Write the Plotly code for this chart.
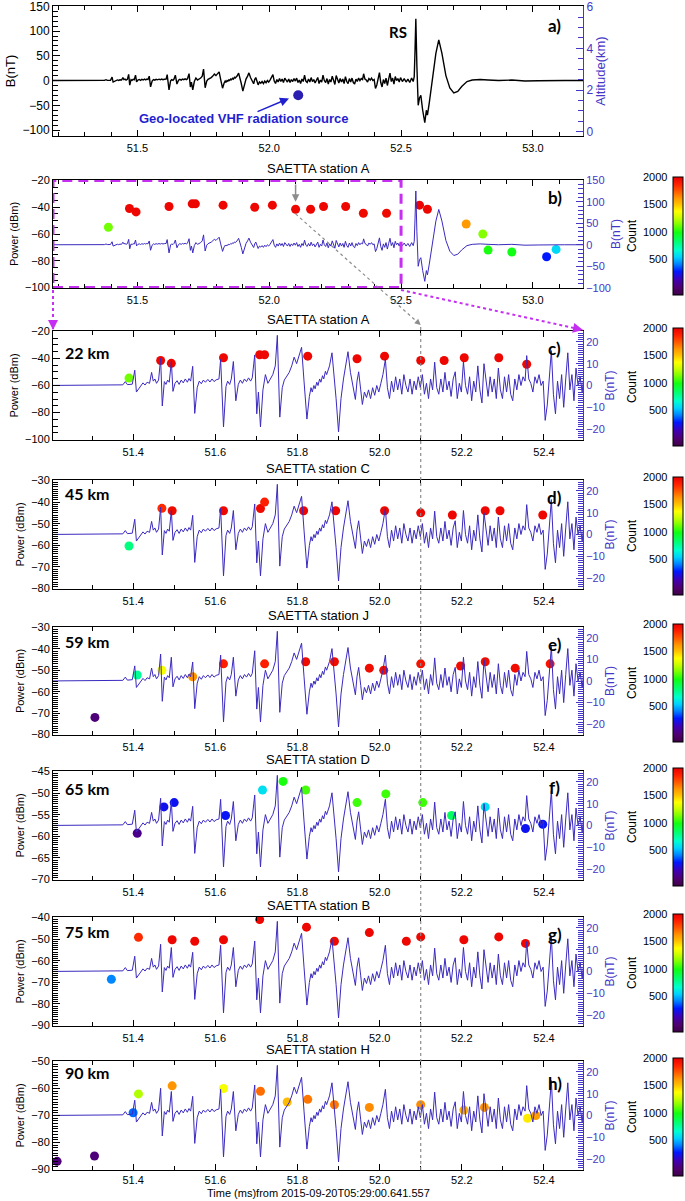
import plotly.graph_objects as go

# ---------------- data ----------------
# magnetic field waveform B(nT) vs time (ms), read from panels a / c
wave_t = [51.18, 51.30, 51.375, 51.381, 51.386, 51.398,
          51.404, 51.408, 51.413, 51.418, 51.424, 51.429, 51.434, 51.440, 51.445, 51.449,
          51.453, 51.457, 51.462, 51.467, 51.471, 51.476, 51.480, 51.484, 51.488, 51.493,
          51.497, 51.502, 51.507, 51.512, 51.517, 51.522, 51.527, 51.532, 51.536, 51.540,
          51.545, 51.550, 51.556, 51.561, 51.566, 51.571, 51.576, 51.582, 51.587, 51.592,
          51.597,
          51.602, 51.609, 51.613, 51.620, 51.626, 51.630, 51.635, 51.639, 51.644, 51.650,
          51.656, 51.661, 51.666, 51.671, 51.676, 51.681, 51.686, 51.690, 51.696, 51.701,
          51.705, 51.710, 51.716, 51.722, 51.728, 51.734, 51.740, 51.746, 51.751, 51.757,
          51.763, 51.768, 51.774, 51.780, 51.786, 51.792, 51.798,
          51.804, 51.810, 51.816, 51.823, 51.829, 51.833, 51.836, 51.840, 51.843, 51.847,
          51.850, 51.854, 51.857, 51.861, 51.864, 51.868, 51.871, 51.878, 51.884, 51.889,
          51.894, 51.900, 51.906, 51.912, 51.918, 51.923, 51.929, 51.935, 51.941, 51.945,
          51.949, 51.954, 51.958, 51.963, 51.968, 51.973, 51.978, 51.983, 51.988, 51.993,
          51.998,
          52.003, 52.008, 52.014, 52.019, 52.024, 52.029, 52.034, 52.039, 52.044, 52.049,
          52.054, 52.059, 52.064, 52.069, 52.074, 52.079, 52.084, 52.089, 52.094, 52.099,
          52.104, 52.109, 52.114, 52.119, 52.124, 52.129, 52.134, 52.139, 52.144, 52.149,
          52.154, 52.159, 52.164, 52.169, 52.174, 52.179, 52.184, 52.189, 52.194, 52.199,
          52.204, 52.209, 52.214, 52.219, 52.224, 52.229, 52.234, 52.239, 52.244, 52.249,
          52.254, 52.259, 52.264, 52.269, 52.274, 52.279, 52.284, 52.289, 52.294, 52.299,
          52.304, 52.309, 52.314, 52.319, 52.324, 52.329, 52.334, 52.339, 52.344, 52.349,
          52.354, 52.358, 52.363, 52.368, 52.373, 52.378, 52.383, 52.388, 52.393, 52.398,
          52.403, 52.408, 52.413, 52.418, 52.423, 52.428, 52.433, 52.438, 52.443, 52.448,
          52.453, 52.458, 52.463, 52.468, 52.473, 52.478, 52.483, 52.488, 52.493, 52.498,
          52.505, 52.512, 52.519, 52.526, 52.533, 52.540, 52.546, 52.550, 52.553, 52.556,
          52.560, 52.565, 52.570, 52.575, 52.582, 52.590, 52.596, 52.600, 52.607, 52.620,
          52.632, 52.643, 52.655, 52.670, 52.685, 52.700, 52.715, 52.730, 52.750, 52.770,
          52.800, 52.830, 52.870, 52.920, 52.970, 53.020, 53.070, 53.120, 53.190]
wave_b = [0.0, 0.0, 0.3, 1.8, 0.4, 0.6,
          7.0, -3.0, -1.5, 0.0, 1.2, 0.2, 1.5, 1.0, 6.0, 2.0,
          3.0, 1.0, 2.5, 12.5, -9.4, 1.8, 0.5, 2.5, 1.5, 11.0,
          -2.7, 1.0, 2.2, 0.5, 2.5, 1.2, 3.0, 1.5, 3.2, 2.0,
          8.8, -12.8, -1.0, 2.0, 0.8, 2.5, 1.5, 2.8, 1.6, 3.0,
          1.8,
          2.6, 3.0, 12.0, -19.0, -0.5, 2.0, 0.5, 3.0, 11.0, -7.0,
          0.5, 2.5, 1.0, 3.0, 1.8, 3.5, 2.0, 3.5, 14.0, -13.0,
          -3.0, -19.0, -2.0, 5.0, 1.0, 3.0, 5.0, 9.0, 23.0, -14.5,
          -1.0, 2.5, 4.0, 6.0, 9.0, 13.0, 10.0,
          14.0, 17.5, 2.0, -15.4, -5.0, -1.0, -3.0, 0.0, -1.5, 1.5,
          0.0, 3.0, 1.5, 4.5, 3.0, 6.5, 5.0, 9.0, 15.0, 6.0,
          -6.0, -21.3, -6.0, 3.0, 9.0, 15.5, 6.0, 0.5, -6.4, 2.0,
          6.3, -2.0, -8.7, -3.0, -5.5, -2.0, -6.0, -1.0, -4.5, 0.0,
          -3.0,
          1.0, 5.0, 12.0, -1.0, -6.0, 2.0, -3.0, 4.0, -2.0, 3.0,
          -4.0, 5.0, 0.0, -3.0, 3.0, -4.0, 2.0, -2.0, 4.0, -1.0,
          5.0, -4.0, 1.0, -6.0, 3.0, -2.0, 10.7, -1.0, -4.0, 3.0,
          -3.0, 6.0, -2.0, 2.0, -5.0, 3.0, 6.3, -6.0, 1.0, -3.0,
          11.0, 0.0, -4.0, 4.0, -7.0, 2.0, -3.0, 9.0, -2.0, -8.0,
          10.0, 1.0, -5.0, 4.0, -3.0, 3.0, -6.0, 8.0, -2.0, -6.0,
          4.0, -3.0, 5.0, -4.0, -7.0, 3.0, -2.0, 5.0, 0.0, 4.0,
          2.0, 13.7, 3.0, 1.0, -3.0, 4.0, 1.0, 5.0, 0.0, 2.0,
          -16.0, -9.0, 4.0, 16.0, -4.0, -13.0, 2.0, -6.0, 5.0, -10.0,
          3.0, 15.0, -2.0, 5.0, -7.0, 8.0, 0.0, 4.0, -3.0, 6.0,
          -2.0, 4.0, -3.0, 3.0, -4.0, 5.0, -2.0, 8.0, 60.0, 125.0,
          30.0, -50.0, -35.0, -30.0, -60.0, -85.0, -60.0, -70.0, -45.0, 10.0,
          55.0, 82.0, 55.0, 10.0, -15.0, -25.0, -22.0, -12.0, -2.0, 1.0,
          2.0, 1.0, 0.0, 1.0, -1.0, -0.5, -1.0, 0.0, 0.0]

# geo-located VHF source (panel a)
vhf_time = [52.11]
vhf_alt = [1.75]

# VHF power (dBm) and count per station
b_time = [51.39, 51.47, 51.495, 51.62, 51.708, 51.72, 51.825, 51.945, 52.012, 52.10, 52.157, 52.206,
          52.29, 52.357, 52.445, 52.57, 52.60, 52.747, 52.81, 52.83, 52.92, 53.052, 53.088]
b_power = [-55, -41, -43.5, -39.5, -37.5, -37.5, -38.5, -40, -38.5, -41.5, -41.5, -39.5,
           -39.5, -44.5, -44.5, -38.5, -41.5, -52.5, -60, -72, -73.4, -77, -71.5]
b_count = [1120, 1970, 1970, 1970, 1980, 1980, 1970, 1970, 1970, 1970, 1970, 1970,
           1970, 1960, 1960, 1980, 1970, 1610, 1150, 1000, 980, 280, 560]

c_time = [51.39, 51.467, 51.493, 51.62, 51.708, 51.72, 51.825, 51.945, 52.012, 52.10, 52.157, 52.206, 52.29, 52.358]
c_power = [-54.5, -41.5, -43.6, -39.5, -37.3, -37.3, -38.3, -40.2, -38.3, -41.5, -41.5, -39.5, -39.5, -44.3]
c_count = [1120, 1970, 1970, 1970, 1970, 1970, 1970, 1970, 1970, 1970, 1970, 1970, 1970, 1960]

d_time = [51.39, 51.47, 51.495, 51.62, 51.71, 51.72, 51.815, 51.893, 52.012, 52.10, 52.177, 52.257, 52.293, 52.397]
d_power = [-60.3, -42.9, -44, -44, -43, -40, -44, -44, -44, -45, -46, -44, -44, -46]
d_count = [800, 1850, 1960, 1970, 1960, 1880, 1970, 1970, 1970, 1970, 1970, 1970, 1970, 1970]

e_time = [51.307, 51.41, 51.47, 51.545, 51.62, 51.72, 51.82, 51.89, 51.975, 52.01, 52.10, 52.197, 52.257, 52.33, 52.415]
e_power = [-72, -52.2, -50, -53, -47, -47, -46, -46, -49, -50, -47, -48, -46, -49, -47]
e_count = [0, 760, 1360, 1620, 1880, 1880, 1950, 1950, 1950, 1950, 1930, 1950, 1950, 1950, 1920]

f_time = [51.41, 51.475, 51.5, 51.625, 51.715, 51.765, 51.82, 51.945, 52.015, 52.105, 52.175, 52.257, 52.355, 52.397]
f_power = [-59.3, -53.2, -52.2, -55.2, -49.3, -47.3, -49.3, -52.2, -50.2, -52.2, -55.2, -53.2, -58.2, -57.2]
f_count = [40, 240, 250, 260, 580, 1000, 1060, 1050, 1050, 1050, 850, 580, 250, 260]

g_time = [51.347, 51.413, 51.495, 51.55, 51.62, 51.708, 51.822, 51.89, 51.975, 52.065, 52.10, 52.205, 52.29, 52.355]
g_power = [-68.6, -49.2, -50.3, -51, -50.3, -41, -44.5, -51, -47, -51, -49, -50.3, -49, -52]
g_count = [420, 1850, 1970, 1970, 1970, 1970, 1970, 1960, 1970, 1970, 1970, 1970, 1970, 1970]

h_time = [51.215, 51.306, 51.40, 51.413, 51.495, 51.62, 51.71, 51.775, 51.825, 51.89, 51.975, 52.10, 52.205, 52.255, 52.36, 52.38]
h_power = [-87, -85, -69, -62, -59, -60, -61, -65, -64, -66, -67, -66, -68, -67, -71, -70]
h_count = [0, 0, 380, 1220, 1620, 1360, 1700, 1520, 1680, 1680, 1640, 1640, 1560, 1620, 1420, 1600]

stations = ["A", "A", "C", "J", "D", "B", "H"]
distances = ["22 km", "45 km", "59 km", "65 km", "75 km", "90 km"]
letters = ["a)", "b)", "c)", "d)", "e)", "f)", "g)", "h)"]
count_ticks = [500, 1000, 1500, 2000]
time_title = "Time (ms)from 2015-09-20T05:29:00.641.557"

# ---------------- style / layout ----------------
W, H = 685, 1201
X0, X1 = 53, 583
PANELS = [(6, 136), (180, 288), (331, 440), (480, 589), (627, 735), (771, 880), (917, 1026), (1061, 1170)]
FONT = "Liberation Sans, Arial, sans-serif"
BOLD = "Lato, Open Sans, sans-serif"
LINEB = "#3a2abf"
AXB = "#4636c8"
MAG = "#c62ff2"
GRAY = "#8c8c8c"
CMIN, CMAX = -150, 2000
CS = [[0.0, '#3c0046'], [0.06, '#50006e'], [0.13, '#4000b4'], [0.2, '#0018ff'], [0.26, '#0080ff'],
      [0.32, '#00d0ff'], [0.38, '#00ffd0'], [0.44, '#00ff80'], [0.53, '#10ff10'], [0.6, '#80ff00'],
      [0.66, '#d0ff00'], [0.71, '#ffff00'], [0.77, '#ffc000'], [0.82, '#ff9800'], [0.88, '#ff5800'],
      [0.94, '#ff2000'], [1.0, '#e80000']]

XR_FULL = [51.18, 53.19]
XR_ZOOM = [51.205, 52.495]

left_ranges = [[-112, 150.6], [-100.3, -19.7], [-100.3, -19.7], [-80.2, -29.8], [-80.2, -29.8],
               [-70.1, -44.9], [-90.2, -39.8], [-90.2, -49.8]]
left_dtick = [50, 20, 20, 10, 10, 5, 10, 10]
left_minor = [10, 5, 5, 1, 1, 0.5, 1, 1]
right_ranges = [[-0.2, 6.03], [-100.5, 150.5]] + [[-25, 25]] * 6
right_dtick = [2, 50] + [10] * 6
right_minor = [0.5, 10] + [1] * 6

point_sets = [(b_time, b_power, b_count), (c_time, c_power, c_count), (d_time, d_power, d_count),
              (e_time, e_power, e_count), (f_time, f_power, f_count), (g_time, g_power, g_count),
              (h_time, h_power, h_count)]


def xid(i):
    return 'x' if i == 0 else f'x{i + 1}'


def xkey(i):
    return 'xaxis' if i == 0 else f'xaxis{i + 1}'


def yid(n):
    return 'y' if n == 1 else f'y{n}'


def ykey(n):
    return 'yaxis' if n == 1 else f'yaxis{n}'


def py(px):
    return 1 - px / H


def px_x(t, rng):
    return X0 + (t - rng[0]) / (rng[1] - rng[0]) * (X1 - X0)


def px_y(v, rng, panel):
    top, bot = panel
    return bot - (v - rng[0]) / (rng[1] - rng[0]) * (bot - top)


fig = go.Figure()
layout = dict(width=W, height=H, margin=dict(l=0, r=0, t=0, b=0, autoexpand=False),
              paper_bgcolor='white', plot_bgcolor='white', showlegend=False,
              font=dict(family=FONT, size=11, color='black'))
annotations = []
shapes = []

for i, (top, bot) in enumerate(PANELS):
    xr = XR_FULL if i < 2 else XR_ZOOM
    nl, nr = 2 * i + 1, 2 * i + 2
    xa = dict(domain=[X0 / W, X1 / W], range=xr, anchor=yid(nl), showline=True, linecolor='black',
              linewidth=1, mirror='ticks', ticks='inside', ticklen=6, tickcolor='black', showgrid=False,
              zeroline=False, tickformat='.1f', tickfont=dict(family=FONT, size=11, color='black'),
              ticklabelstandoff=0 if i == 7 else 2, ticklabeloverflow='allow',
              minor=dict(ticks='inside', ticklen=4, tickwidth=1, tickcolor='black', dtick=0.1, showgrid=False))
    if i < 2:
        xa.update(tick0=51.5, dtick=0.5)
    else:
        xa.update(tick0=51.4, dtick=0.2)
    layout[xkey(i)] = xa
    ya = dict(domain=[py(bot), py(top)], range=left_ranges[i], anchor=xid(i), showline=True,
              linecolor='black', linewidth=1, ticks='inside', ticklen=7, tickcolor='black',
              showgrid=False, zeroline=False, dtick=left_dtick[i], tick0=0, ticklabeloverflow='allow',
              tickfont=dict(family=FONT, size=12 if i == 0 else 11, color='black'),
              minor=dict(ticks='inside', ticklen=5, tickwidth=1, tickcolor='black', dtick=left_minor[i],
                         showgrid=False),
              title=dict(text='B(nT)' if i == 0 else 'Power (dBm)',
                         font=dict(family=FONT, size=13 if i == 0 else 11, color='black'), standoff=4))
    layout[ykey(nl)] = ya
    yr = dict(range=right_ranges[i], overlaying=yid(nl), anchor=xid(i), side='right', showline=True,
              linecolor=AXB, linewidth=1, ticks='inside', ticklen=7, tickcolor=AXB, showgrid=False,
              zeroline=False, dtick=right_dtick[i], tick0=0, ticklabeloverflow='allow',
              tickfont=dict(family=FONT, size=12 if i == 0 else 11, color=AXB),
              minor=dict(ticks='inside', ticklen=5, tickwidth=1, tickcolor=AXB, dtick=right_minor[i],
                         showgrid=False),
              title=dict(text='Altitude(km)' if i == 0 else 'B(nT)',
                         font=dict(family=FONT, size=13 if i == 0 else 12, color=AXB), standoff=1))
    layout[ykey(nr)] = yr

    if i == 0:
        fig.add_trace(go.Scatter(x=wave_t, y=wave_b, mode='lines', line=dict(color='black', width=1.4),
                                 xaxis=xid(i), yaxis=yid(nl), hoverinfo='skip'))
        fig.add_trace(go.Scatter(x=vhf_time, y=vhf_alt, mode='markers',
                                 marker=dict(color='#2a1fb0', size=10), xaxis=xid(i), yaxis=yid(nr)))
    else:
        pt, pp, pc = point_sets[i - 1]
        cb_top = top - 3
        fig.add_trace(go.Scatter(
            x=pt, y=pp, mode='markers', xaxis=xid(i), yaxis=yid(nl),
            marker=dict(color=pc, colorscale=CS, cmin=CMIN, cmax=CMAX, size=9, showscale=True,
                        colorbar=dict(x=673 / W, xanchor='left', xpad=0, ypad=0, thickness=10,
                                      thicknessmode='pixels', len=118, lenmode='pixels',
                                      y=py(cb_top), yanchor='top', outlinewidth=1, outlinecolor='black',
                                      showticklabels=False, ticks=''))))
        fig.add_trace(go.Scatter(x=wave_t, y=wave_b, mode='lines', line=dict(color=LINEB, width=1),
                                 xaxis=xid(i), yaxis=yid(nr), hoverinfo='skip'))
        # colorbar labels
        for v in count_ticks:
            ypx = cb_top + (CMAX - v) / (CMAX - CMIN) * 118
            annotations.append(dict(x=669 / W, y=py(ypx), xref='paper', yref='paper', text=str(v),
                                    showarrow=False, xanchor='right', yanchor='middle',
                                    font=dict(family=FONT, size=11, color='black')))
        annotations.append(dict(x=632 / W, y=py(cb_top + 59), xref='paper', yref='paper', text='Count',
                                showarrow=False, textangle=-90, xanchor='center', yanchor='middle',
                                font=dict(family=FONT, size=12, color='black')))
        # station title
        annotations.append(dict(x=318 / W, y=py(top - 12), xref='paper', yref='paper',
                                text=f'SAETTA station {stations[i - 1]}', showarrow=False,
                                xanchor='center', yanchor='middle',
                                font=dict(family=FONT, size=13, color='black')))
    # panel letter
    hgt = bot - top
    ly = {0: 19, 7: 22}.get(i, 17)
    annotations.append(dict(x=0.947, y=1 - ly / hgt, xref=f'{xid(i)} domain', yref=f'{yid(nl)} domain',
                            text=f'<b>{letters[i]}</b>', showarrow=False, xanchor='center', yanchor='middle',
                            font=dict(family=BOLD, size=17, color='black')))

# bottom time-axis title
annotations.append(dict(x=318 / W, y=py(1193), xref='paper', yref='paper', text=time_title,
                        showarrow=False, xanchor='center', yanchor='middle',
                        font=dict(family=FONT, size=11, color='black')))

# distance labels
dist_off = [21, 13, 14, 18, 14, 11]
for k, lab in enumerate(distances):
    i = k + 2
    top, bot = PANELS[i]
    annotations.append(dict(x=0.018, y=1 - dist_off[k] / (bot - top), xref=f'{xid(i)} domain',
                            yref=f'{yid(2 * i + 1)} domain', text=f'<b>{lab}</b>', showarrow=False,
                            xanchor='left', yanchor='middle', font=dict(family=BOLD, size=16, color='black')))

# panel a annotations
annotations.append(dict(x=52.489, y=0.80, xref='x', yref='y domain', text='<b>RS</b>', showarrow=False,
                        xanchor='center', yanchor='middle', font=dict(family=BOLD, size=15, color='black')))
annotations.append(dict(x=51.5, y=-76, xref='x', yref='y', text='<b>Geo-located VHF radiation source</b>',
                        showarrow=False, xanchor='left', yanchor='middle',
                        font=dict(family=FONT, size=13, color='#1f1fd0')))
annotations.append(dict(x=52.075, y=-36, xref='x', yref='y', ax=51.95, ay=-64, axref='x', ayref='y',
                        text='', showarrow=True, arrowhead=2, arrowsize=1.2, arrowwidth=1.5,
                        arrowcolor='#1f1fd0'))

# panel b: dashed zoom rectangle and gray arrow
shapes.append(dict(type='rect', xref='x2', yref='y3', x0=XR_FULL[0], x1=52.5, y0=-100, y1=-20,
                   line=dict(color=MAG, width=3, dash='10px,6px')))
annotations.append(dict(x=52.1, y=-36, xref='x2', yref='y3', ax=52.1, ay=-22, axref='x2', ayref='y3',
                        text='', showarrow=True, arrowhead=2, arrowsize=1, arrowwidth=1.5, arrowcolor=GRAY))


def dotted_arrow(p0, p1, color, width, dash='dot'):
    (xa0, ya0), (xa1, ya1) = p0, p1
    shapes.append(dict(type='line', xref='paper', yref='paper', x0=xa0 / W, y0=py(ya0), x1=xa1 / W,
                       y1=py(ya1), line=dict(color=color, width=width, dash=dash)))
    dx, dy = xa1 - xa0, ya1 - ya0
    n = (dx * dx + dy * dy) ** 0.5
    annotations.append(dict(x=xa1 / W, y=py(ya1), xref='paper', yref='paper', ax=-dx / n * 7, ay=-dy / n * 7,
                            text='', showarrow=True, arrowhead=2, arrowsize=1, arrowwidth=width,
                            arrowcolor=color))


pb, pc_ = PANELS[1], PANELS[2]
# magenta zoom arrows b -> c
dotted_arrow((X0, pb[1] + 2), (X0, pc_[0] - 1), MAG, 2)
dotted_arrow((px_x(52.5, XR_FULL), pb[1] + 2), (X1, pc_[0] - 1), MAG, 2)
# gray link from the b source at 52.1 ms to the c panel
x_src_b = px_x(52.1, XR_FULL)
y_src_b = px_y(-45, left_ranges[1], pb)
x_src_c = px_x(52.1, XR_ZOOM)
dotted_arrow((x_src_b, y_src_b), (x_src_c, pc_[0] - 6), GRAY, 1.2)
# vertical dotted line through panels c-h
shapes.append(dict(type='line', xref='x3', yref='paper', x0=52.1, x1=52.1, y0=py(PANELS[7][1]),
                   y1=py(pc_[0] - 6), line=dict(color=GRAY, width=1.2, dash='dot')))

layout['annotations'] = annotations
layout['shapes'] = shapes
fig.update_layout(**layout)
# remove the browser's default 8px body margin so the 685x1201 figure fills the window exactly
fig.write_html('out.html', config={'displayModeBar': False},
               post_script="document.body.style.margin='0';document.body.style.overflow='hidden';")
